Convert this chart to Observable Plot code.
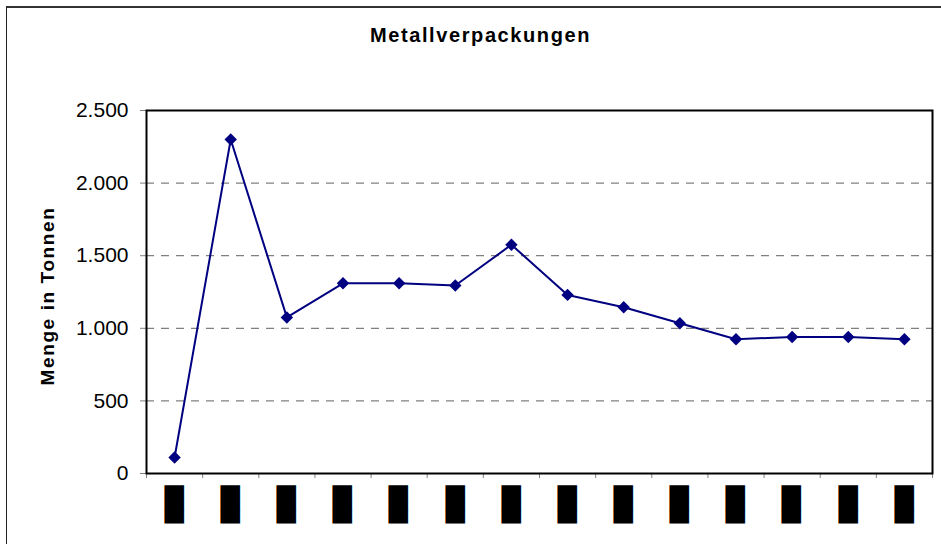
<!DOCTYPE html>
<html><head><meta charset="utf-8">
<script src="https://cdn.jsdelivr.net/npm/d3@7"></script>
<script src="https://cdn.jsdelivr.net/npm/@observablehq/plot@0.6"></script>
<style>
body{margin:0;background:#fff;font-family:"Liberation Sans",Arial,sans-serif;}
#wrap{position:relative;width:941px;height:544px;overflow:hidden;}
#border{position:absolute;left:6px;top:6px;width:1200px;height:1200px;border-left:1.5px solid #222;border-top:2px solid #333;}
#title{position:absolute;left:0;width:961px;text-align:center;top:25px;font-size:20px;font-weight:bold;letter-spacing:1.6px;line-height:20px;color:#000;}
#ylabel{position:absolute;left:-102.5px;width:300px;top:286px;line-height:20px;text-align:center;font-size:19px;font-weight:bold;letter-spacing:1.6px;transform:rotate(-90deg);transform-origin:center center;color:#000;}
#chart{position:absolute;left:0;top:0;}
</style></head><body>
<div id="wrap"><div id="border"></div><div id="title"></div><div id="ylabel"></div><div id="chart"></div></div>
<script>
const title = "Metallverpackungen";
const yLabel = "Menge in Tonnen";
const xLabels = ["███","███","███","███","███","███","███","███","███","███","███","███","███","███"];
const values = [110, 2300, 1075, 1310, 1310, 1295, 1575, 1230, 1145, 1035, 925, 940, 940, 925];
const yTicks = [0, 500, 1000, 1500, 2000, 2500];
const xBoundaries = [0,1,2,3,4,5,6,7,8,9,10,11,12,13,14];

document.getElementById("title").textContent = title;
document.getElementById("ylabel").textContent = yLabel;

const rows = values.map((v, i) => ({pos: i + 0.5, v, label: xLabels[i]}));
const fmt = d => d3.format(",")(d).replace(/,/g, ".");

const chart = Plot.plot({
  width: 941, height: 544,
  marginLeft: 146, marginRight: 9, marginTop: 110, marginBottom: 71,
  style: {fontFamily: "Liberation Sans, Arial, sans-serif", background: "transparent", overflow: "visible"},
  x: {type: "linear", domain: [0, 14], axis: null},
  y: {domain: [0, 2500], axis: null},
  marks: [
    Plot.ruleY(yTicks.filter(d => d > 0 && d < 2500), {stroke: "#808080", strokeWidth: 1.3, strokeDasharray: "8,7"}),
    Plot.axisY(yTicks, {tickSize: 6, tickPadding: 12, stroke: "#808080", fill: "black", fontSize: 21, tickFormat: fmt, label: null}),
    Plot.axisX(xBoundaries, {tickSize: 5, stroke: "#808080", tickFormat: () => "", label: null}),
    Plot.line(rows, {x: "pos", y: "v", stroke: "#000080", strokeWidth: 2}),
    Plot.dot(rows, {x: "pos", y: "v", symbol: "diamond2", r: 5.6, fill: "#000080"}),
    Plot.frame({stroke: "black", strokeWidth: 2}),
    Plot.text(rows, {x: "pos", frameAnchor: "bottom", dy: 12, text: "label", rotate: -90, textAnchor: "end", lineAnchor: "middle", fontSize: 16.5, fontFamily: "DejaVu Sans", fill: "black"})
  ]
});
document.getElementById("chart").appendChild(chart);
</script>
</body></html>
